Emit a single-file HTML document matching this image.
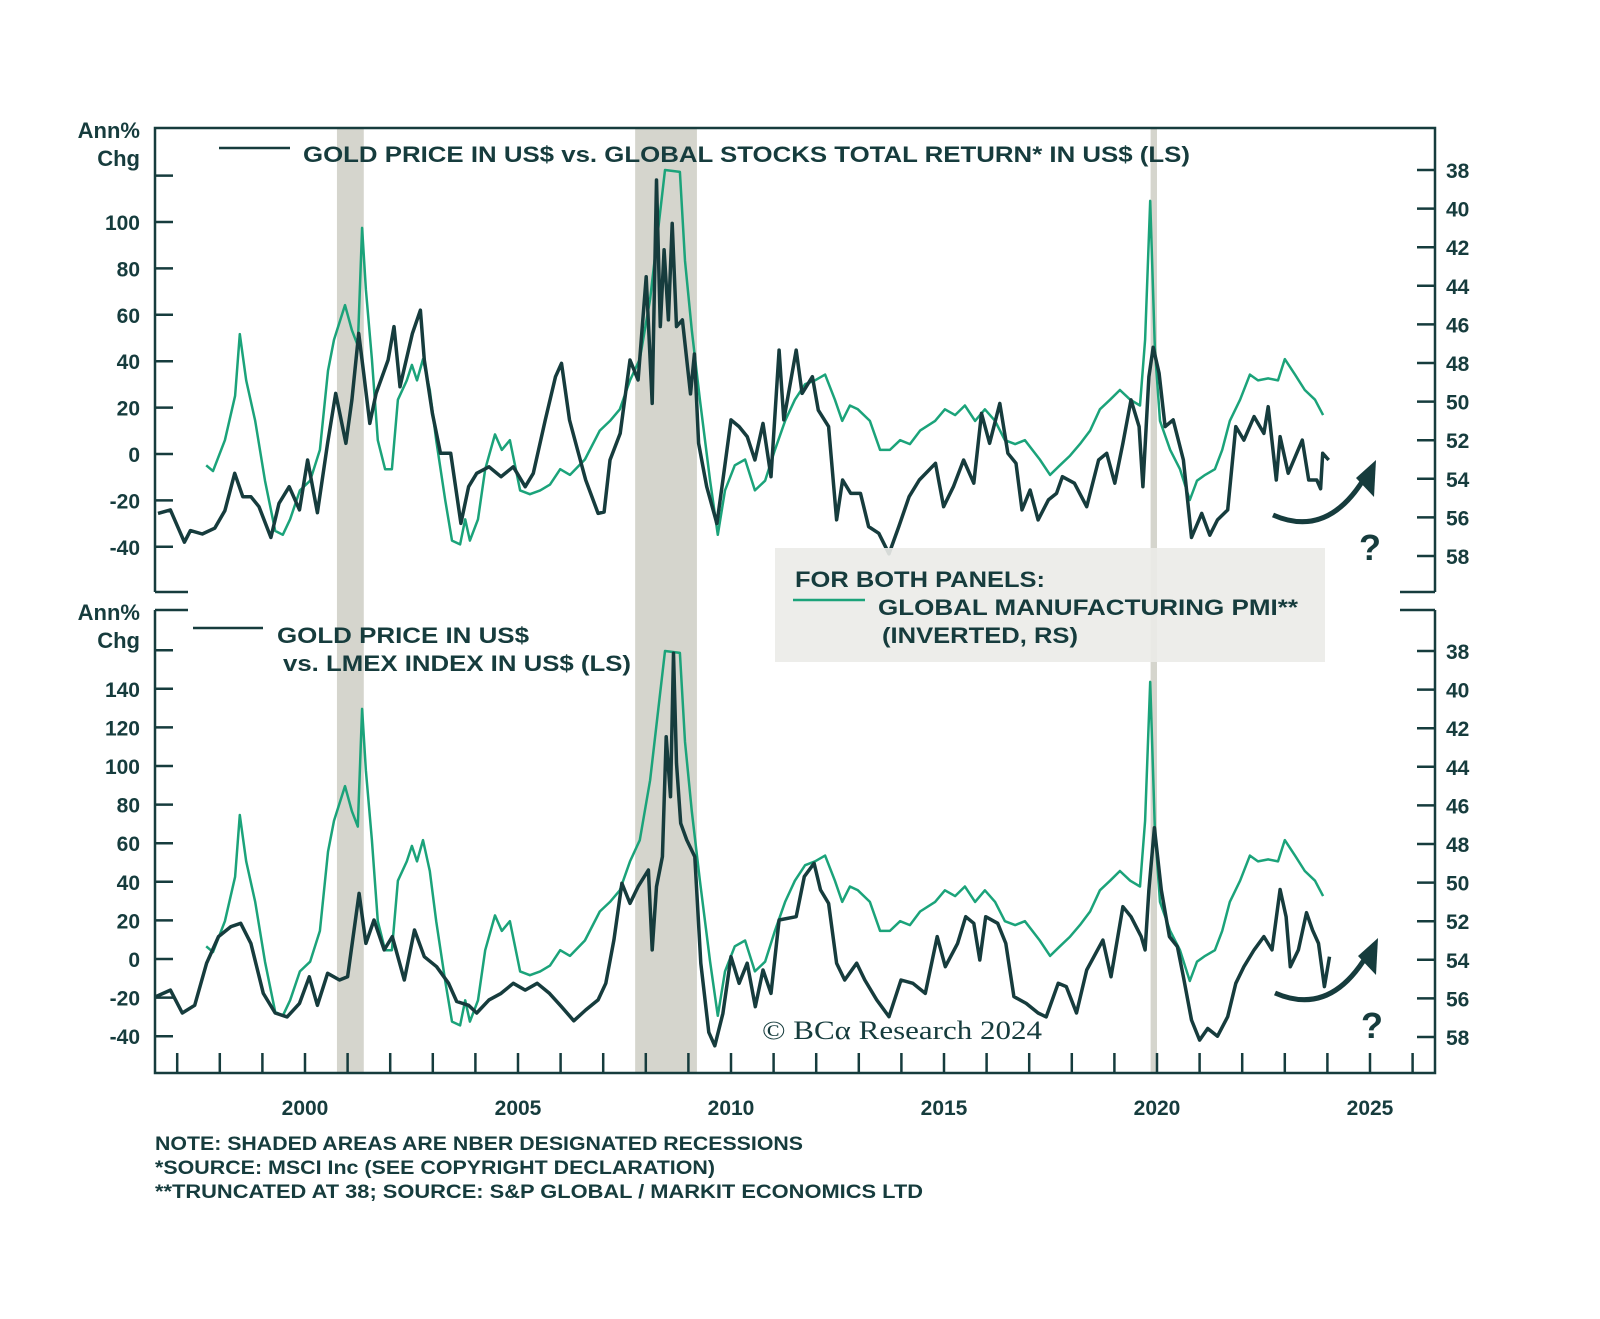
<!DOCTYPE html>
<html><head><meta charset="utf-8"><style>
html,body{margin:0;padding:0;background:#fff;}
svg{display:block;}
text{font-family:"Liberation Sans",sans-serif;font-weight:bold;fill:#163c3d;}
</style></head><body>
<svg id="chart" width="1600" height="1319" viewBox="0 0 1600 1319" xmlns="http://www.w3.org/2000/svg">
<g id="bands"></g>
<g id="frame"></g>
<g id="ticks"></g>
<g id="series"></g>
<rect x="775" y="548" width="550" height="114" fill="#ebebe8" opacity="0.9"/>
<text x="795" y="587" font-size="22" textLength="250" lengthAdjust="spacingAndGlyphs">FOR BOTH PANELS:</text>
<line x1="793" y1="600" x2="865" y2="600" stroke="#1ba37a" stroke-width="2.5"/>
<text x="878" y="615" font-size="22" textLength="420" lengthAdjust="spacingAndGlyphs">GLOBAL MANUFACTURING PMI**</text>
<text x="882" y="643" font-size="22" textLength="196" lengthAdjust="spacingAndGlyphs">(INVERTED, RS)</text>
<line x1="219" y1="148" x2="290" y2="148" stroke="#163c3d" stroke-width="2.5"/>
<text x="303" y="162" font-size="22" textLength="887" lengthAdjust="spacingAndGlyphs">GOLD PRICE IN US$ vs. GLOBAL STOCKS TOTAL RETURN* IN US$ (LS)</text>
<line x1="193" y1="628" x2="263" y2="628" stroke="#163c3d" stroke-width="2.5"/>
<text x="277" y="643" font-size="22" textLength="252" lengthAdjust="spacingAndGlyphs">GOLD PRICE IN US$</text>
<text x="283" y="671" font-size="22" textLength="348" lengthAdjust="spacingAndGlyphs">vs. LMEX INDEX IN US$ (LS)</text>
<text x="140" y="138" font-size="22" text-anchor="end">Ann%</text>
<text x="140" y="166" font-size="22" text-anchor="end">Chg</text>
<text x="140" y="620" font-size="22" text-anchor="end">Ann%</text>
<text x="140" y="648" font-size="22" text-anchor="end">Chg</text>
<text x="762" y="1039" font-size="26" style="font-family:'Liberation Serif',serif;font-weight:normal" textLength="280" lengthAdjust="spacingAndGlyphs">© BCα Research 2024</text>
<g>
<path d="M1273,515 Q1330,540 1368,472" fill="none" stroke="#163c3d" stroke-width="5"/>
<polygon points="1376,460 1374,497 1356,478" fill="#163c3d"/>
<text x="1370" y="560" font-size="36" text-anchor="middle">?</text>
</g>
<g>
<path d="M1275,993 Q1332,1018 1370,950" fill="none" stroke="#163c3d" stroke-width="5"/>
<polygon points="1378,938 1376,975 1358,956" fill="#163c3d"/>
<text x="1372" y="1038" font-size="36" text-anchor="middle">?</text>
</g>
<text x="155" y="1150" font-size="19" textLength="648" lengthAdjust="spacingAndGlyphs">NOTE: SHADED AREAS ARE NBER DESIGNATED RECESSIONS</text>
<text x="155" y="1174" font-size="19" textLength="560" lengthAdjust="spacingAndGlyphs">*SOURCE: MSCI Inc (SEE COPYRIGHT DECLARATION)</text>
<text x="155" y="1198" font-size="19" textLength="768" lengthAdjust="spacingAndGlyphs">**TRUNCATED AT 38; SOURCE: S&amp;P GLOBAL / MARKIT ECONOMICS LTD</text>
</svg>
<script>
const recessionStarts=[2000.75,2007.75,2019.85];
const recessionEnds=[2001.38,2009.2,2020.0];
const pmiDates=[1997.68,1997.84,1998.12,1998.36,1998.47,1998.62,1998.83,1999.06,1999.30,1999.48,1999.65,1999.88,2000.12,2000.35,2000.54,2000.68,2000.94,2001.10,2001.24,2001.34,2001.43,2001.57,2001.71,2001.88,2002.04,2002.18,2002.39,2002.51,2002.63,2002.77,2002.93,2003.08,2003.29,2003.45,2003.64,2003.76,2003.87,2004.06,2004.23,2004.46,2004.62,2004.81,2004.93,2005.05,2005.28,2005.52,2005.75,2005.99,2006.22,2006.57,2006.92,2007.16,2007.39,2007.63,2007.86,2008.10,2008.45,2008.80,2008.92,2009.08,2009.27,2009.51,2009.69,2009.86,2010.09,2010.33,2010.56,2010.80,2011.03,2011.27,2011.50,2011.74,2011.97,2012.21,2012.44,2012.61,2012.79,2012.98,2013.26,2013.50,2013.73,2013.97,2014.20,2014.44,2014.79,2015.02,2015.26,2015.49,2015.73,2015.96,2016.20,2016.43,2016.67,2016.90,2017.25,2017.49,2017.72,2017.96,2018.19,2018.43,2018.66,2018.90,2019.13,2019.37,2019.60,2019.72,2019.84,2019.95,2020.07,2020.31,2020.54,2020.77,2020.94,2021.13,2021.36,2021.53,2021.71,2021.95,2022.18,2022.37,2022.61,2022.84,2023.00,2023.24,2023.47,2023.71,2023.90];
const pmiValues=[53.3,53.6,52.0,49.7,46.5,48.9,51.0,54.1,56.7,56.9,56.1,54.6,54.1,52.5,48.4,46.8,45.0,46.3,47.1,41.0,44.2,47.8,52.0,53.5,53.5,49.9,48.9,48.1,48.9,47.8,49.4,52.0,55.1,57.2,57.4,56.1,57.2,56.1,53.5,51.7,52.5,52.0,53.3,54.6,54.8,54.6,54.3,53.5,53.8,53.0,51.5,51.0,50.4,48.9,47.8,44.7,38.0,38.1,42.7,46.3,49.9,54.1,56.9,54.6,53.3,53.0,54.6,54.1,52.5,51.0,49.9,49.1,48.9,48.6,49.9,51.0,50.2,50.4,51.0,52.5,52.5,52.0,52.2,51.5,51.0,50.4,50.7,50.2,51.0,50.4,51.0,52.0,52.2,52.0,53.0,53.8,53.3,52.8,52.2,51.5,50.4,49.9,49.4,49.9,50.2,46.8,39.6,47.3,51.0,52.5,53.5,55.1,54.1,53.8,53.5,52.5,51.0,49.9,48.6,48.9,48.8,48.9,47.8,48.6,49.4,49.9,50.7];
const stocksDates=[1996.55,1996.84,1997.17,1997.31,1997.59,1997.88,1998.12,1998.35,1998.54,1998.73,1998.92,1999.20,1999.39,1999.63,1999.87,2000.06,2000.29,2000.53,2000.72,2000.96,2001.10,2001.26,2001.38,2001.52,2001.67,2001.95,2002.09,2002.23,2002.52,2002.71,2002.80,2002.99,2003.18,2003.42,2003.66,2003.84,2004.03,2004.32,2004.60,2004.89,2005.17,2005.36,2005.64,2005.88,2006.02,2006.21,2006.40,2006.59,2006.88,2007.02,2007.16,2007.40,2007.63,2007.82,2008.01,2008.15,2008.25,2008.34,2008.43,2008.53,2008.62,2008.72,2008.86,2009.05,2009.14,2009.24,2009.43,2009.67,2009.81,2010.00,2010.19,2010.38,2010.56,2010.75,2010.94,2011.13,2011.24,2011.53,2011.67,2011.91,2012.05,2012.29,2012.48,2012.62,2012.81,2013.04,2013.23,2013.47,2013.71,2013.94,2014.18,2014.42,2014.80,2014.99,2015.22,2015.46,2015.70,2015.88,2016.07,2016.31,2016.50,2016.69,2016.83,2017.02,2017.21,2017.45,2017.64,2017.78,2018.06,2018.35,2018.63,2018.82,2019.01,2019.20,2019.39,2019.58,2019.67,2019.81,2019.91,2020.05,2020.19,2020.38,2020.62,2020.81,2021.05,2021.24,2021.42,2021.66,2021.85,2022.04,2022.28,2022.51,2022.61,2022.80,2022.89,2023.08,2023.41,2023.56,2023.75,2023.84,2023.89,2024.03];
const stocksValues=[-25.6,-24.1,-38,-33.0,-34.5,-32,-24.4,-8.3,-18.4,-18.4,-22.7,-36,-21.3,-14.1,-24.1,-2.6,-25.3,4.6,26.1,4.6,23.3,52,34.5,13.2,26.1,40.5,54.9,29.0,52.0,62,40.5,17.5,0.3,0.3,-29.9,-14.1,-8.3,-5.5,-9.8,-5.5,-14.1,-8.3,14.7,33.3,39.1,14.7,1.7,-11.2,-25.6,-25,-2.6,8.9,40.5,31.9,76.4,21.8,118.1,54.9,88.0,57.8,99.4,54.9,57.8,25.9,43.1,4.6,-14.1,-30,-11.2,14.7,11.8,7.5,-2.6,13.2,-9.8,44.8,14.7,44.8,26.1,33.3,18.9,11.8,-28.4,-11.2,-17.0,-17.0,-31.3,-34.2,-43,-31.3,-18.4,-11.2,-4.0,-22.7,-14.1,-2.6,-12.6,17.5,4.6,21.8,0.3,-4.0,-24.1,-15.5,-28.4,-19.8,-17.0,-9.8,-12.6,-22.7,-2.6,0.3,-12.6,4.6,23.3,11.8,-14.1,33.3,46,34.8,11.8,14.7,-2.6,-36,-25.6,-35,-28.4,-24.1,11.8,6.0,16.1,8.9,20.4,-11.2,7.5,-8.3,6.0,-11.2,-11.2,-15,0.3,-2.6];
const lmexDates=[1996.5,1996.84,1997.12,1997.41,1997.69,1997.97,1998.26,1998.49,1998.73,1999.02,1999.30,1999.58,1999.87,2000.10,2000.29,2000.53,2000.81,2001.00,2001.27,2001.43,2001.62,2001.86,2002.05,2002.33,2002.57,2002.80,2003.09,2003.37,2003.56,2003.84,2004.03,2004.32,2004.60,2004.89,2005.17,2005.45,2005.74,2006.02,2006.31,2006.59,2006.88,2007.06,2007.25,2007.44,2007.63,2007.82,2008.06,2008.15,2008.25,2008.39,2008.48,2008.58,2008.65,2008.72,2008.82,2008.96,2009.15,2009.29,2009.48,2009.62,2009.81,2010.00,2010.19,2010.38,2010.57,2010.75,2010.94,2011.13,2011.53,2011.72,2011.95,2012.10,2012.29,2012.48,2012.67,2012.95,2013.14,2013.42,2013.71,2013.99,2014.27,2014.56,2014.84,2015.03,2015.32,2015.51,2015.70,2015.84,2015.98,2016.26,2016.45,2016.64,2016.93,2017.21,2017.40,2017.68,2017.87,2018.11,2018.35,2018.73,2018.92,2019.20,2019.39,2019.63,2019.72,2019.81,2019.94,2020.10,2020.29,2020.48,2020.62,2020.81,2021.00,2021.19,2021.42,2021.66,2021.85,2022.04,2022.28,2022.51,2022.70,2022.89,2023.03,2023.13,2023.32,2023.51,2023.65,2023.79,2023.93,2024.05];
const lmexValues=[-19.5,-16.1,-28,-24,-2.2,11.6,16.8,18.5,8.1,-17.8,-28,-30,-23.0,-9.2,-24,-7.4,-10.9,-9.2,34.0,8.1,20.2,4.7,11.6,-10.9,15.0,1.2,-4.0,-12.6,-22,-24,-28,-21.2,-17.8,-12.6,-16.1,-12.6,-17.8,-24.7,-32,-26.4,-21.2,-12.6,9.8,39.2,28.8,37.5,46.1,4.7,37.5,53.0,115.2,84.1,158.4,101.4,70.3,61.7,53.0,-2.2,-38,-45,-28.2,1.2,-12.6,-2.2,-24.7,-5.7,-17.8,20.2,21.9,42.7,49.6,35.8,28.8,-2.2,-10.9,-2.2,-10.9,-21.2,-29.9,-10.9,-12.6,-17.8,11.6,-4.0,8.1,21.9,18.5,-0.5,21.9,18.5,8.1,-19.5,-23.0,-28,-30,-12.6,-14.3,-28,-5.7,9.8,-9.2,27.1,21.9,11.6,4.7,35.8,68,35.8,11.6,6.4,-9.2,-31.6,-42,-36,-40,-29.9,-12.6,-4.0,4.7,11.6,4.7,36,21.9,-4.0,4.7,24,15.0,8.1,-14.3,1.2];
const topLeftTicks=[-40,-20,0,20,40,60,80,100,120];
const topLeftLabels=["-40","-20","0","20","40","60","80","100",""];
const botLeftTicks=[-40,-20,0,20,40,60,80,100,120,140,160];
const botLeftLabels=["-40","-20","0","20","40","60","80","100","120","140",""];
const rightTicks=[38,40,42,44,46,48,50,52,54,56,58];
const yearTicks=[1997,1998,1999,2000,2001,2002,2003,2004,2005,2006,2007,2008,2009,2010,2011,2012,2013,2014,2015,2016,2017,2018,2019,2020,2021,2022,2023,2024,2025,2026];
const yearLabels=[2000,2005,2010,2015,2020,2025];

const NS="http://www.w3.org/2000/svg";
const L=155,R=1435;
const xS=y=>305+(y-2000)*42.6;
const yTL=v=>454-v*2.32, yTR=p=>170+(p-38)*19.3;
const yBL=v=>959-v*1.93, yBR=p=>651+(p-38)*19.3;
function mk(tag,attrs,parent){const e=document.createElementNS(NS,tag);for(const k in attrs)e.setAttribute(k,attrs[k]);parent.appendChild(e);return e;}
const bands=document.getElementById('bands'),frame=document.getElementById('frame'),ticks=document.getElementById('ticks'),series=document.getElementById('series');
recessionStarts.forEach((s,i)=>{const r=mk('rect',{x:xS(s),y:128,width:xS(recessionEnds[i])-xS(s),height:945,fill:'#d5d5cd'},bands);

});
const C='#163c3d';
const fp=mk('path',{d:`M${L},592 L${L},128 L${R},128 L${R},592 M${L},592 L${L+33},592 M${R-35},592 L${R},592 M${L},610 L${L+33},610 M${R-35},610 L${R},610 M${L},610 L${L},1073 L${R},1073 L${R},610`,fill:'none',stroke:C,'stroke-width':2.5},frame);


function leftAxis(vals,labels,fy,nm){vals.forEach((v,i)=>{const y=fy(v);
const t=mk('line',{x1:L,x2:L+18,y1:y,y2:y,stroke:C,'stroke-width':2.5},ticks);


if(labels[i]){const tx=mk('text',{x:140,y:y+8,'font-size':21,'text-anchor':'end'},ticks);tx.textContent=labels[i];

}});}
function rightAxis(fy,nm){rightTicks.forEach(p=>{const y=fy(p);
const t=mk('line',{x1:R-18,x2:R,y1:y,y2:y,stroke:C,'stroke-width':2.5},ticks);


const tx=mk('text',{x:1446,y:y+8,'font-size':21},ticks);tx.textContent=p;

});}
leftAxis(topLeftTicks,topLeftLabels,yTL,'top-left-axis');
leftAxis(botLeftTicks,botLeftLabels,yBL,'bottom-left-axis');
rightAxis(yTR,'top-right-axis');rightAxis(yBR,'bottom-right-axis');
yearTicks.forEach(yr=>{const x=xS(yr);if(x<=L||x>=R)return;
const t=mk('line',{x1:x,x2:x,y1:1053,y2:1073,stroke:C,'stroke-width':2.5},ticks);

});
yearLabels.forEach(yr=>{const tx=mk('text',{x:xS(yr),y:1115,'font-size':21,'text-anchor':'middle'},ticks);tx.textContent=yr;

});
const defs=mk('defs',{},series);
const c1=mk('clipPath',{id:'ctop'},defs);mk('rect',{x:L,y:128,width:R-L,height:464},c1);
const c2=mk('clipPath',{id:'cbot'},defs);mk('rect',{x:L,y:610,width:R-L,height:463},c2);
function line(dates,vals,fy,color,w,clip,nm){const d=dates.map((t,i)=>(i?'L':'M')+xS(t).toFixed(1)+','+fy(vals[i]).toFixed(1)).join(' ');
const p=mk('path',{d:d,fill:'none',stroke:color,'stroke-width':w,'stroke-linejoin':'round','clip-path':`url(#${clip})`},series);

}
const G='#1ba37a';
line(pmiDates,pmiValues,yTR,G,2.5,'ctop','top-pmi-line');
line(stocksDates,stocksValues,yTL,C,3.5,'ctop','gold-vs-stocks-line');
line(pmiDates,pmiValues,yBR,G,2.5,'cbot','bottom-pmi-line');
line(lmexDates,lmexValues,yBL,C,3.5,'cbot','gold-vs-lmex-line');
</script>
</body></html>
